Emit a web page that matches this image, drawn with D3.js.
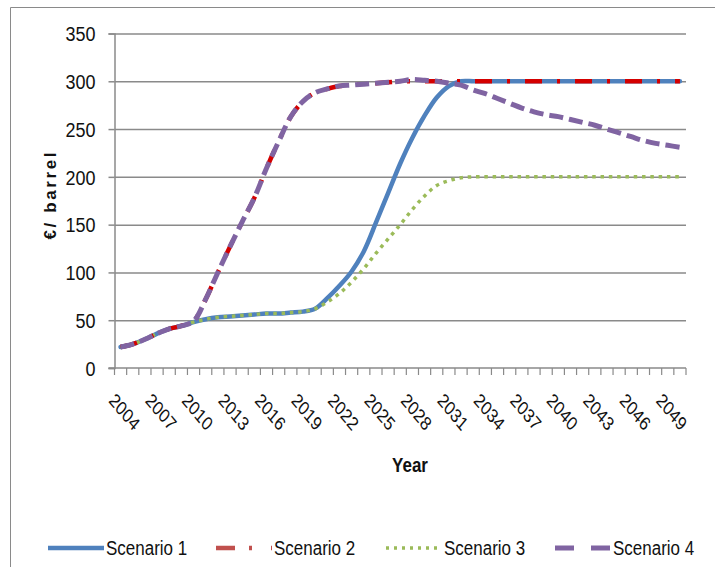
<!DOCTYPE html>
<html>
<head>
<meta charset="utf-8">
<script src="https://cdn.jsdelivr.net/npm/d3@7/dist/d3.min.js"></script>
<style>
  html, body { margin: 0; padding: 0; background: #fff; }
  svg { display: block; }
</style>
</head>
<body>
<svg id="chart" width="715" height="567"></svg>
<script>
// ---- Data ----
const years = [2004,2005,2006,2007,2008,2009,2010,2011,2012,2013,2014,2015,2016,2017,2018,2019,
  2020,2021,2022,2023,2024,2025,2026,2027,2028,2029,2030,2031,2032,2033,2034,2035,2036,2037,
  2038,2039,2040,2041,2042,2043,2044,2045,2046,2047,2048,2049,2050];
const tickYears = [2004,2007,2010,2013,2016,2019,2022,2025,2028,2031,2034,2037,2040,2043,2046,2049];
const yTicks = [0,50,100,150,200,250,300,350];

const scenario1 = [22,25,30,36,41,44,48,51,53,54,55,56,57,57,58,59,
  62,73,86,101,122,152,183,214,241,264,283,295,300,300,300,300,300,300,
  300,300,300,300,300,300,300,300,300,300,300,300,300];
const scenario2 = [22,25,30,36,41,44,49,72,100,127,153,178,209,237,263,279,
  288,292,295,296,297,298,299,300,300,300,300,300,300,300,300,300,300,300,
  300,300,300,300,300,300,300,300,300,300,300,300,300];
const scenario3 = [22,25,30,36,41,44,48,51,53,54,55,56,57,57,58,59,
  62,69,78,90,104,120,135,150,166,180,191,196,199,200,200,200,200,200,
  200,200,200,200,200,200,200,200,200,200,200,200,200];
const scenario4 = [22,25,30,36,41,44,49,72,100,127,153,178,209,237,263,279,
  288,292,295,296,297,298,299,300,302,301,300,298,296,291,287,282,277,272,
  268,265,263,260,257,254,250,246,242,238,235,233,231];

const seriesNames = ["Scenario 1","Scenario 2","Scenario 3","Scenario 4"];

// ---- Layout ----
const svg = d3.select("#chart");
const pLeft = 114.5, pRight = 686, pTop = 33.5, pBottom = 368;
const font = "'Liberation Sans',Arial,sans-serif";
const gridColor = "#8a8a8a";

// chart frame (cropped)
svg.append("path")
  .attr("d", `M10.5,${567+5} L10.5,7.5 L${715+5},7.5`)
  .attr("fill", "none").attr("stroke", gridColor).attr("stroke-width", 1);

const x = d3.scaleBand().domain(years).range([pLeft, pRight]).padding(0);
const y = d3.scaleLinear().domain([0, 350]).range([pBottom, pTop]);
const cx = d => x(d) + x.bandwidth() / 2;

// gridlines
const grid = d3.axisLeft(y).tickValues(yTicks.slice(1)).tickSize(-(pRight - pLeft)).tickFormat("");
const gg = svg.append("g").attr("transform", `translate(${pLeft},0)`).call(grid);
gg.select(".domain").remove();
gg.selectAll(".tick line").attr("stroke", gridColor).attr("stroke-width", 1.5);

// y axis
const yAxis = d3.axisLeft(y).tickValues(yTicks).tickSize(6).tickPadding(13);
const gy = svg.append("g").attr("transform", `translate(${pLeft},0)`).call(yAxis);
gy.select(".domain").attr("stroke", gridColor).attr("stroke-width", 1.5);
gy.selectAll(".tick line").attr("stroke", gridColor).attr("stroke-width", 1.5);
gy.selectAll(".tick text").attr("font-family", font).attr("font-size", 18)
  .attr("fill", "#111").attr("dy", "0.36em").attr("transform", "scale(1,1.12)");

// x axis line and ticks at category boundaries
svg.append("line").attr("x1", pLeft - 6).attr("x2", pRight).attr("y1", pBottom).attr("y2", pBottom)
  .attr("stroke", gridColor).attr("stroke-width", 1.5);
const boundaries = years.map(d => x(d)).concat([pRight]);
svg.append("g").selectAll("line").data(boundaries).join("line")
  .attr("x1", d => d).attr("x2", d => d).attr("y1", pBottom).attr("y2", pBottom + 7)
  .attr("stroke", gridColor).attr("stroke-width", 1.2);

// x labels
const xAxis = d3.axisBottom(x).tickValues(tickYears).tickSize(0).tickPadding(0);
const gx = svg.append("g").attr("transform", `translate(0,${pBottom})`).call(xAxis);
gx.select(".domain").remove();
gx.selectAll(".tick text")
  .attr("font-family", font).attr("font-size", 16).attr("fill", "#111")
  .attr("text-anchor", "start").attr("dy", null).attr("y", 0)
  .attr("transform", "translate(-12.5,33.5) scale(1,1.2) rotate(45)");

// axis titles
svg.append("text").attr("transform", "translate(410,472) scale(1,1.15)").attr("text-anchor", "middle")
  .attr("font-family", font).attr("font-weight", "bold").attr("font-size", 17)
  .attr("fill", "#111").text("Year");
svg.append("text").attr("transform", "translate(55.5,196) rotate(-90)")
  .attr("text-anchor", "middle").attr("font-family", font).attr("font-weight", "bold")
  .attr("font-size", 17).attr("textLength", 87).attr("lengthAdjust", "spacing")
  .attr("fill", "#111").text("€/ barrel");

// ---- Lines ----
const line = d3.line().x((d, i) => cx(years[i])).y(d => y(d)).curve(d3.curveCatmullRom.alpha(0.5));
const styles = [
  { data: scenario1, color: "#4F81BD", width: 4.5, dash: null, cap: "round" },
  { data: scenario3, color: "#9BBB59", width: 3.5, dash: "3.5,4.8", cap: "butt" },
  { data: scenario2, color: "#D40000", width: 4.5, dash: "17,15,3,15", cap: "butt" },
  { data: scenario4, color: "#8064A2", width: 5, dash: "14,6", cap: "butt" }
];
const gl = svg.append("g");
styles.forEach(s => {
  gl.append("path").datum(s.data).attr("d", line)
    .attr("fill", "none").attr("stroke", s.color).attr("stroke-width", s.width)
    .attr("stroke-dasharray", s.dash).attr("stroke-linecap", s.cap)
    .attr("stroke-linejoin", "round");
});

// ---- Legend ----
const legend = [
  { name: seriesNames[0], color: "#4F81BD", dash: null, width: 4.5, x0: 48 },
  { name: seriesNames[1], color: "#C0504D", dash: "19,14,3,19", width: 4.5, x0: 216 },
  { name: seriesNames[2], color: "#9BBB59", dash: "3,5", width: 3.5, x0: 386 },
  { name: seriesNames[3], color: "#8064A2", dash: "19,17", width: 5, x0: 555 }
];
const lg = svg.append("g");
legend.forEach(l => {
  lg.append("line").attr("x1", l.x0).attr("x2", l.x0 + 56).attr("y1", 548).attr("y2", 548)
    .attr("stroke", l.color).attr("stroke-width", l.width).attr("stroke-dasharray", l.dash);
  lg.append("text").attr("transform", `translate(${l.x0 + 58},554.5) scale(1,1.15)`)
    .attr("font-family", font).attr("font-size", 17).attr("fill", "#111").text(l.name);
});
</script>
</body>
</html>
